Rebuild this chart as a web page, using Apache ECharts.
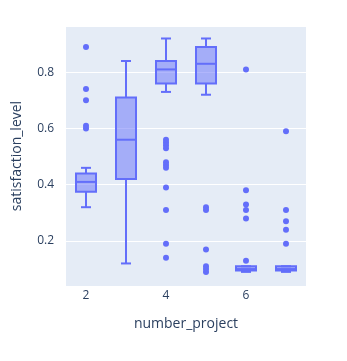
<!DOCTYPE html>
<html>
<head>
<meta charset="utf-8">
<script src="https://cdn.jsdelivr.net/npm/echarts@6/dist/echarts.min.js"></script>
<style>
  html, body { margin: 0; padding: 0; background: #fff; }
  #chart { width: 347px; height: 361px; }
</style>
</head>
<body>
<div id="chart"></div>
<script>
// Project counts on the x axis
const projects = ['2', '3', '4', '5', '6', '7'];

// Five-number summaries of satisfaction_level per project count
const whiskerLow = [0.32, 0.12, 0.73, 0.72, 0.09, 0.09];
const quartile1  = [0.375, 0.42, 0.76, 0.76, 0.095, 0.095];
const medians    = [0.41, 0.56, 0.81, 0.83, 0.10, 0.10];
const quartile3  = [0.44, 0.71, 0.84, 0.89, 0.11, 0.11];
const whiskerHigh = [0.46, 0.84, 0.92, 0.92, 0.11, 0.11];

// Points beyond the whiskers
const outliers2 = [0.89, 0.74, 0.70, 0.61, 0.60];
const outliers3 = [];
const outliers4 = [0.56, 0.55, 0.54, 0.53, 0.48, 0.47, 0.46, 0.39, 0.31, 0.19, 0.14];
const outliers5 = [0.32, 0.31, 0.17, 0.11, 0.10, 0.09];
const outliers6 = [0.81, 0.38, 0.33, 0.31, 0.28, 0.13];
const outliers7 = [0.59, 0.31, 0.27, 0.24, 0.19];

const outlierGroups = [outliers2, outliers3, outliers4, outliers5, outliers6, outliers7];

const LINE = '#636efa';
const FILL = 'rgba(99,110,250,0.5)';
const FONT = '"Open Sans", verdana, arial, sans-serif';
const TEXT = '#2a3f5f';

const boxData = projects.map((p, i) =>
  [i, whiskerLow[i], quartile1[i], medians[i], quartile3[i], whiskerHigh[i]]);

const pointData = [];
outlierGroups.forEach((vals, i) => vals.forEach(v => pointData.push([projects[i], v])));

function renderBox(params, api) {
  const idx = api.value(0);
  const band = api.size([1, 0])[0];
  const half = band * 0.25;
  const capHalf = band * 0.125;
  const pMin = api.coord([idx, api.value(1)]);
  const pQ1 = api.coord([idx, api.value(2)]);
  const pMed = api.coord([idx, api.value(3)]);
  const pQ3 = api.coord([idx, api.value(4)]);
  const pMax = api.coord([idx, api.value(5)]);
  const cx = pMed[0];
  const stroke = { stroke: LINE, lineWidth: 2, fill: null };
  return {
    type: 'group',
    children: [
      { type: 'line', shape: { x1: cx, y1: pQ1[1], x2: cx, y2: pMin[1] }, style: stroke },
      { type: 'line', shape: { x1: cx, y1: pQ3[1], x2: cx, y2: pMax[1] }, style: stroke },
      { type: 'line', shape: { x1: cx - capHalf, y1: pMin[1], x2: cx + capHalf, y2: pMin[1] }, style: stroke },
      { type: 'line', shape: { x1: cx - capHalf, y1: pMax[1], x2: cx + capHalf, y2: pMax[1] }, style: stroke },
      {
        type: 'rect',
        shape: { x: cx - half, y: pQ3[1], width: half * 2, height: pQ1[1] - pQ3[1] },
        style: { fill: FILL, stroke: LINE, lineWidth: 2 }
      },
      { type: 'line', shape: { x1: cx - half, y1: pMed[1], x2: cx + half, y2: pMed[1] }, style: stroke }
    ]
  };
}

const chart = echarts.init(document.getElementById('chart'), null, { renderer: 'canvas' });
chart.setOption({
  animation: false,
  backgroundColor: '#ffffff',
  grid: {
    left: 66, right: 41, top: 26, bottom: 75,
    show: true, backgroundColor: '#E5ECF6', borderWidth: 0
  },
  xAxis: {
    type: 'category',
    data: projects,
    boundaryGap: true,
    name: 'number_project',
    nameLocation: 'middle',
    nameGap: 31,
    nameTextStyle: { fontFamily: FONT, fontSize: 14, color: TEXT },
    axisLine: { show: false },
    axisTick: { show: false },
    splitLine: { show: false },
    axisLabel: { interval: 1, margin: 4, fontFamily: FONT, fontSize: 12, color: TEXT }
  },
  yAxis: {
    type: 'value',
    min: 0.0398,
    max: 0.9644,
    splitNumber: 5,
    minInterval: 0.2,
    maxInterval: 0.2,
    name: 'satisfaction_level',
    nameLocation: 'middle',
    nameGap: 42,
    nameTextStyle: { fontFamily: FONT, fontSize: 14, color: TEXT },
    axisLine: { show: false },
    axisTick: { show: false },
    splitLine: { show: true, lineStyle: { color: '#ffffff', width: 1 } },
    axisLabel: {
      showMinLabel: false, showMaxLabel: false,
      margin: 12, fontFamily: FONT, fontSize: 12, color: TEXT,
      formatter: v => v.toFixed(1)
    }
  },
  series: [
    {
      type: 'custom',
      renderItem: renderBox,
      data: boxData,
      encode: { x: 0, y: [1, 2, 3, 4, 5] },
      z: 2
    },
    {
      type: 'scatter',
      data: pointData,
      symbol: 'circle',
      symbolSize: 6,
      itemStyle: { color: LINE, opacity: 1 },
      z: 3
    }
  ]
});
</script>
</body>
</html>
